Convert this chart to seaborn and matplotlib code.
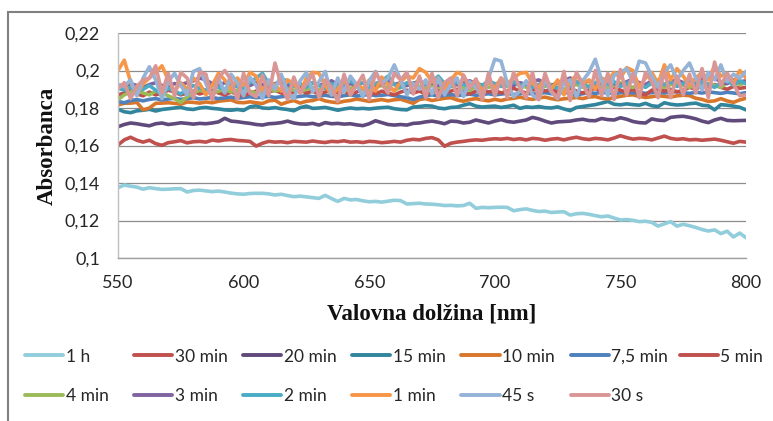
import numpy as np
import pandas as pd
import matplotlib
matplotlib.use("Agg")
import matplotlib.pyplot as plt
from matplotlib.lines import Line2D
from matplotlib.patches import Rectangle
from matplotlib.ticker import FuncFormatter, MultipleLocator
import seaborn as sns

# Wavelength grid [nm]
wavelength = np.arange(550, 800.01, 2.5)

series_labels = ["1 h", "30 min", "20 min", "15 min", "10 min", "7,5 min", "5 min",
                 "4 min", "3 min", "2 min", "1 min", "45 s", "30 s"]
series_colors = ["#92CDDC", "#C0504D", "#604A7B", "#31859C", "#D8772C", "#4F81BD", "#C0504D",
                 "#9BBB59", "#8064A2", "#4BACC6", "#F79646", "#95B3D7", "#D99694"]

abs_1h = [
    .1375, .1389, .1383, .1378, .1367, .1375, .1370, .1366, .1367, .1369,
    .1370, .1352, .1360, .1362, .1358, .1354, .1357, .1352, .1346, .1342,
    .1340, .1344, .1345, .1345, .1342, .1336, .1340, .1333, .1327, .1330,
    .1326, .1322, .1318, .1334, .1317, .1302, .1318, .1310, .1312, .1305,
    .1300, .1302, .1298, .1303, .1308, .1306, .1288, .1290, .1292, .1288,
    .1287, .1284, .1280, .1281, .1278, .1280, .1292, .1265, .1270, .1268,
    .1270, .1271, .1270, .1252, .1258, .1262, .1254, .1248, .1250, .1243,
    .1245, .1247, .1229, .1236, .1238, .1233, .1226, .1220, .1224, .1213,
    .1203, .1205, .1201, .1194, .1196, .1190, .1170, .1182, .1194, .1170,
    .1180, .1172, .1163, .1152, .1144, .1150, .1130, .1143, .1112, .1133,
    .1108]

abs_30min = [
    .1603, .1630, .1644, .1628, .1618, .1628, .1610, .1601, .1615, .1620,
    .1626, .1614, .1620, .1622, .1618, .1629, .1624, .1630, .1632, .1627,
    .1625, .1622, .1597, .1612, .1622, .1618, .1620, .1615, .1622, .1620,
    .1618, .1624, .1619, .1616, .1622, .1620, .1625, .1618, .1620, .1616,
    .1622, .1620, .1615, .1618, .1622, .1618, .1628, .1633, .1630, .1638,
    .1642, .1630, .1596, .1612, .1618, .1622, .1627, .1630, .1628, .1633,
    .1636, .1634, .1638, .1632, .1636, .1630, .1638, .1635, .1628, .1634,
    .1637, .1630, .1638, .1644, .1636, .1632, .1638, .1635, .1630, .1640,
    .1652, .1642, .1634, .1638, .1636, .1630, .1640, .1650, .1638, .1633,
    .1636, .1630, .1632, .1628, .1631, .1634, .1628, .1620, .1612, .1622,
    .1618]

abs_20min = [
    .1700, .1712, .1720, .1716, .1710, .1705, .1716, .1720, .1712, .1716,
    .1721, .1718, .1714, .1718, .1716, .1720, .1726, .1745, .1730, .1727,
    .1722, .1718, .1712, .1709, .1716, .1718, .1722, .1730, .1720, .1715,
    .1714, .1718, .1709, .1722, .1716, .1718, .1714, .1716, .1710, .1706,
    .1716, .1732, .1722, .1712, .1709, .1712, .1709, .1718, .1720, .1726,
    .1730, .1724, .1716, .1730, .1728, .1720, .1724, .1736, .1728, .1720,
    .1730, .1738, .1728, .1724, .1730, .1736, .1750, .1742, .1730, .1720,
    .1726, .1728, .1730, .1736, .1740, .1733, .1732, .1744, .1738, .1736,
    .1748, .1740, .1728, .1722, .1720, .1742, .1735, .1733, .1750, .1754,
    .1756, .1750, .1742, .1730, .1722, .1736, .1745, .1734, .1732, .1733,
    .1734]

abs_15min = [
    .1793, .1780, .1775, .1785, .1788, .1793, .1784, .1792, .1796, .1800,
    .1803, .1795, .1792, .1800, .1803, .1798, .1795, .1790, .1788, .1792,
    .1787, .1806, .1812, .1800, .1798, .1802, .1796, .1792, .1785, .1802,
    .1810, .1798, .1800, .1803, .1796, .1788, .1795, .1800, .1796, .1798,
    .1795, .1799, .1802, .1804, .1796, .1792, .1790, .1805, .1808, .1812,
    .1810, .1800, .1796, .1803, .1805, .1815, .1823, .1810, .1805, .1808,
    .1810, .1803, .1808, .1815, .1798, .1806, .1803, .1808, .1802, .1800,
    .1806, .1795, .1786, .1803, .1808, .1813, .1818, .1826, .1835, .1820,
    .1817, .1822, .1818, .1815, .1825, .1812, .1808, .1828, .1820, .1816,
    .1818, .1823, .1826, .1815, .1812, .1790, .1818, .1815, .1810, .1804,
    .1790]

abs_10min = [
    .1816, .1825, .1826, .1830, .1790, .1800, .1825, .1826, .1828, .1825,
    .1820, .1832, .1830, .1826, .1832, .1828, .1836, .1840, .1843, .1830,
    .1828, .1833, .1828, .1824, .1838, .1842, .1820, .1832, .1840, .1826,
    .1836, .1840, .1850, .1838, .1832, .1828, .1836, .1840, .1848, .1842,
    .1835, .1840, .1845, .1838, .1844, .1847, .1836, .1825, .1846, .1850,
    .1840, .1846, .1852, .1855, .1843, .1836, .1845, .1850, .1843, .1838,
    .1846, .1840, .1848, .1852, .1858, .1850, .1846, .1854, .1858, .1850,
    .1844, .1849, .1852, .1856, .1850, .1858, .1861, .1852, .1848, .1856,
    .1862, .1868, .1870, .1862, .1856, .1860, .1866, .1862, .1858, .1865,
    .1868, .1866, .1852, .1846, .1835, .1838, .1850, .1838, .1830, .1843,
    .1852]

abs_7_5min = [
    .1835, .1828, .1840, .1845, .1838, .1846, .1850, .1843, .1848, .1852,
    .1846, .1850, .1855, .1848, .1852, .1856, .1850, .1854, .1858, .1852,
    .1856, .1860, .1855, .1858, .1862, .1856, .1860, .1864, .1858, .1862,
    .1866, .1860, .1864, .1868, .1862, .1860, .1866, .1870, .1864, .1868,
    .1872, .1866, .1868, .1872, .1866, .1860, .1855, .1845, .1858, .1866,
    .1870, .1864, .1868, .1872, .1866, .1870, .1874, .1868, .1872, .1876,
    .1870, .1874, .1878, .1872, .1876, .1880, .1874, .1878, .1882, .1876,
    .1880, .1884, .1878, .1870, .1876, .1882, .1878, .1884, .1880, .1876,
    .1882, .1886, .1880, .1884, .1878, .1882, .1886, .1880, .1884, .1888,
    .1882, .1878, .1884, .1880, .1886, .1882, .1878, .1884, .1880, .1876,
    .1882]

abs_5min = [
    .1870, .1880, .1895, .1875, .1865, .1885, .1870, .1880, .1895, .1885,
    .1870, .1880, .1890, .1875, .1885, .1895, .1880, .1870, .1885, .1875,
    .1865, .1880, .1890, .1875, .1885, .1895, .1880, .1870, .1885, .1895,
    .1880, .1890, .1875, .1885, .1895, .1880, .1890, .1875, .1885, .1900,
    .1885, .1875, .1890, .1880, .1870, .1885, .1895, .1880, .1890, .1875,
    .1885, .1895, .1880, .1890, .1900, .1885, .1875, .1890, .1900, .1885,
    .1895, .1880, .1890, .1905, .1890, .1880, .1895, .1905, .1890, .1900,
    .1885, .1895, .1905, .1890, .1880, .1895, .1905, .1890, .1900, .1910,
    .1895, .1885, .1900, .1880, .1870, .1895, .1905, .1890, .1900, .1885,
    .1895, .1910, .1900, .1920, .1905, .1925, .1910, .1900, .1915, .1905,
    .1910]

abs_4min = [
    .1845, .1870, .1885, .1895, .1880, .1870, .1890, .1880, .1865, .1850,
    .1830, .1860, .1880, .1895, .1885, .1875, .1890, .1900, .1885, .1895,
    .1905, .1890, .1880, .1895, .1905, .1890, .1900, .1910, .1895, .1885,
    .1900, .1910, .1895, .1905, .1915, .1900, .1890, .1905, .1915, .1900,
    .1895, .1910, .1920, .1905, .1895, .1910, .1920, .1935, .1915, .1905,
    .1920, .1910, .1900, .1915, .1925, .1905, .1895, .1915, .1925, .1910,
    .1920, .1930, .1915, .1935, .1925, .1910, .1920, .1905, .1915, .1925,
    .1910, .1900, .1915, .1925, .1910, .1920, .1930, .1915, .1905, .1920,
    .1935, .1920, .1910, .1925, .1915, .1930, .1920, .1910, .1925, .1935,
    .1920, .1910, .1925, .1915, .1930, .1920, .1910, .1935, .1945, .1925,
    .1935]

abs_3min = [
    .1925, .1915, .1930, .1920, .1910, .1925, .1935, .1920, .1915, .1930,
    .1925, .1935, .1945, .1960, .1950, .1930, .1920, .1935, .1925, .1915,
    .1930, .1920, .1935, .1925, .1915, .1930, .1940, .1920, .1930, .1915,
    .1925, .1935, .1920, .1930, .1945, .1925, .1915, .1930, .1920, .1935,
    .1925, .1915, .1930, .1940, .1925, .1935, .1920, .1930, .1945, .1925,
    .1935, .1920, .1930, .1940, .1925, .1935, .1945, .1930, .1920, .1935,
    .1925, .1940, .1930, .1920, .1935, .1925, .1940, .1950, .1930, .1920,
    .1935, .1945, .1960, .1940, .1930, .1945, .1925, .1935, .1950, .1930,
    .1920, .1940, .1955, .1935, .1925, .1945, .1935, .1925, .1940, .1950,
    .1935, .1945, .1930, .1955, .1970, .1960, .1940, .1930, .1950, .1940,
    .1945]

abs_2min = [
    .1905, .1895, .1910, .1890, .1900, .1920, .1895, .1880, .1905, .1890,
    .1875, .1900, .1920, .1905, .1895, .1925, .1910, .1900, .1930, .1915,
    .1905, .1935, .1960, .1985, .1930, .1920, .1955, .1945, .1915, .1930,
    .1910, .1935, .1920, .1905, .1930, .1915, .1925, .1945, .1920, .1935,
    .1910, .1930, .1945, .1970, .1925, .1910, .1935, .1920, .1945, .1925,
    .1940, .1970, .1930, .1915, .1940, .1925, .1910, .1935, .1920, .1945,
    .1930, .1915, .1925, .1940, .1920, .1935, .1910, .1925, .1945, .1920,
    .1905, .1930, .1915, .1940, .1925, .1910, .1935, .1950, .1925, .1940,
    .1915, .1930, .1955, .1925, .1910, .1935, .1950, .1925, .1940, .1915,
    .1930, .1955, .1920, .1940, .1925, .1910, .1935, .1950, .1920, .1945,
    .1930]

abs_1min = [
    .2000, .2055, .1940, .1870, .1930, .1960, .1990, .2025, .1950, .1890,
    .1935, .1900, .1960, .1930, .1870, .1920, .1985, .1950, .1900, .1960,
    .1920, .1990, .1970, .1890, .1945, .1920, .1890, .1950, .1930, .1880,
    .1960, .1990, .1985, .1920, .1870, .1900, .1960, .1870, .1930, .1900,
    .1950, .1890, .1965, .1925, .1890, .1940, .1970, .1960, .2010, .1990,
    .1940, .1960, .1900, .1950, .1990, .1975, .1910, .1950, .1890, .1940,
    .1905, .1960, .1930, .1960, .1985, .1990, .1930, .1910, .1960, .1900,
    .1950, .1870, .1940, .1975, .1930, .1950, .1900, .1960, .1945, .1990,
    .1960, .2015, .2000, .1910, .1960, .1990, .1930, .2030, .1950, .2010,
    .1970, .1920, .1960, .1990, .1950, .2025, .1970, .1985, .1930, .2000,
    .1960]

abs_45s = [
    .1925, .1915, .1950, .1865, .1960, .2020, .1950, .1850, .1940, .1985,
    .1920, .1870, .1995, .2010, .1930, .1860, .1960, .1880, .1980, .1935,
    .1865, .1965, .1920, .1850, .1950, .1900, .1980, .1885, .1850, .1945,
    .1990, .1885, .1940, .1995, .1870, .1960, .1885, .1970, .1925, .1860,
    .1945, .1995, .1930, .1960, .2030, .1950, .1870, .1930, .1900, .1950,
    .1875, .1960, .1870, .1925, .1960, .1860, .1940, .1910, .1860, .1960,
    .2060, .2050, .1930, .1860, .1890, .1945, .1870, .1845, .1950, .1885,
    .1850, .1935, .1950, .1860, .1945, .1990, .2060, .1950, .1865, .1975,
    .1990, .2010, .1940, .2050, .2040, .1970, .1910, .1990, .2030, .1950,
    .2000, .2040, .1960, .1895, .1990, .1950, .2030, .1940, .1980, .1960,
    .1995]

abs_30s = [
    .1900, .1935, .1850, .1915, .1950, .1960, .2025, .1880, .1985, .1865,
    .1990, .1960, .1855, .1990, .1980, .1845, .1960, .2000, .1950, .1845,
    .1985, .1880, .1860, .1975, .1865, .2040, .1920, .1845, .1965, .1880,
    .1930, .1980, .1855, .1950, .1910, .1835, .1980, .1870, .1920, .1975,
    .1845, .1990, .1930, .1880, .1985, .1950, .1990, .1875, .1970, .1855,
    .1985, .1855, .1935, .1960, .1865, .1975, .1905, .1955, .1845, .1985,
    .1865, .1960, .1855, .1990, .1905, .1855, .1990, .1845, .1985, .1890,
    .1855, .1995, .1840, .1990, .1930, .1860, .2000, .1865, .1985, .1845,
    .2005, .1870, .1985, .1855, .1990, .1940, .1855, .2000, .1855, .1970,
    .1870, .1980, .1880, .2010, .1855, .2045, .1920, .1985, .1930, .1865,
    .1870]

series_values = [abs_1h, abs_30min, abs_20min, abs_15min, abs_10min, abs_7_5min, abs_5min,
                 abs_4min, abs_3min, abs_2min, abs_1min, abs_45s, abs_30s]

frames = [pd.DataFrame({"wl": wavelength, "A": vals, "cas": label})
          for label, vals in zip(series_labels, series_values)]
df = pd.concat(frames, ignore_index=True)

sns.set_style("white")
plt.rcParams["font.family"] = ["Lato", "DejaVu Sans"]

W, H = 773, 421
fig = plt.figure(figsize=(W / 100, H / 100), dpi=100)
ax = fig.add_axes([118 / W, 1 - 258 / H, 628 / W, 225 / H])

sns.lineplot(data=df, x="wl", y="A", hue="cas", hue_order=series_labels,
             palette=series_colors, linewidth=2.6, estimator=None, sort=False,
             legend=False, ax=ax, solid_joinstyle="round", solid_capstyle="round")

ax.set_xlim(550, 800)
ax.set_ylim(0.1, 0.22)
ax.xaxis.set_major_locator(MultipleLocator(50))
ax.yaxis.set_major_locator(MultipleLocator(0.02))
ax.yaxis.set_major_formatter(FuncFormatter(
    lambda v, _: f"{v:.2f}".rstrip("0").rstrip(".").replace(".", ",")))
ax.grid(axis="y", color="#8C8C8C", linewidth=0.9)
ax.grid(axis="x", visible=False)
ax.set_axisbelow(True)
for side in ("top", "right"):
    ax.spines[side].set_visible(False)
ax.spines["left"].set_color("#BFBFBF")
ax.spines["bottom"].set_color("#A0A0A0")
ax.spines["left"].set_linewidth(1.0)
ax.spines["bottom"].set_linewidth(1.0)
ax.tick_params(axis="x", length=0, pad=12, labelsize=13, labelcolor="#262626")
ax.tick_params(axis="y", length=0, pad=13, labelsize=13, labelcolor="#262626")

serif_bold = dict(fontfamily="Liberation Serif", fontweight="bold", fontsize=16.5, color="#111111")
ax.set_xlabel("Valovna dolžina [nm]", **serif_bold)
ax.xaxis.label.set_va("center")
ax.xaxis.set_label_coords(0.5, (258 - 314) / 225)
ax.set_ylabel("Absorbanca", **serif_bold)
ax.yaxis.label.set_va("center")
ax.yaxis.set_label_coords((47 - 118) / 628, 0.5)

# Legend: 7 fixed-width columns, filled row by row
fs = 12.5
for j in range(7):
    idx = [i for i in (j, j + 7) if i < len(series_labels)]
    handles = [Line2D([], [], color=series_colors[i], lw=2.8) for i in idx]
    fig.legend(handles, [series_labels[i] for i in idx], loc="upper left",
               bbox_to_anchor=((25 + 109.1 * j) / W, 1 - 348.5 / H),
               frameon=False, fontsize=fs, handlelength=2.2, handletextpad=0.15,
               borderpad=0, borderaxespad=0, labelspacing=1.38, labelcolor="#262626")

# Chart-area border
fig.patches.append(Rectangle((8 / W, -0.2), 1.5, 1.2 - 12 / H, transform=fig.transFigure,
                             fill=False, edgecolor="#808080", linewidth=1.5))

fig.savefig("out.png", dpi=100)
